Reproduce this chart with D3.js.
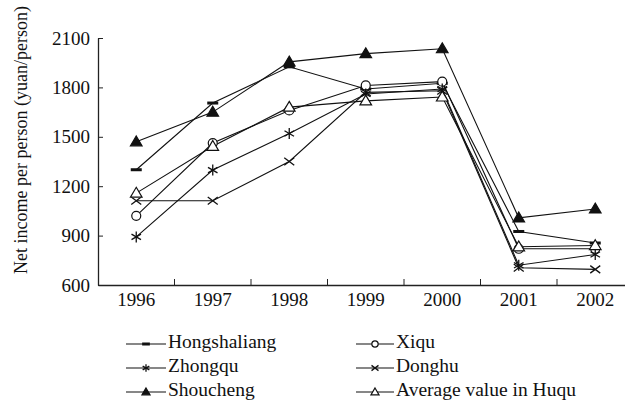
<!DOCTYPE html>
<html>
<head>
<meta charset="utf-8">
<script src="https://cdn.jsdelivr.net/npm/d3@7"></script>
<style>
  body { margin: 0; background: #fff; }
  svg text { font-family: "Liberation Serif", "Times New Roman", serif; fill: #111; }
</style>
</head>
<body>
<svg id="chart" width="625" height="405"></svg>
<script>
const years = ["1996", "1997", "1998", "1999", "2000", "2001", "2002"];
const yTicks = [600, 900, 1200, 1500, 1800, 2100];

const hongshaliang = [1300, 1705, 1925, 1790, 1825, 925, 855];
const xiqu = [1020, 1462, 1660, 1812, 1835, 820, 820];
const zhongqu = [892, 1298, 1520, 1760, 1790, 720, 785];
const donghu = [1112, 1112, 1350, 1770, 1780, 705, 695];
const shoucheng = [1470, 1650, 1955, 2005, 2035, 1008, 1062];
const average = [1158, 1442, 1680, 1718, 1742, 832, 840];

const series = [
  { name: "Hongshaliang", values: hongshaliang, marker: "dash" },
  { name: "Xiqu", values: xiqu, marker: "circle" },
  { name: "Zhongqu", values: zhongqu, marker: "star" },
  { name: "Donghu", values: donghu, marker: "cross" },
  { name: "Shoucheng", values: shoucheng, marker: "triFill" },
  { name: "Average value in Huqu", values: average, marker: "triOpen" }
];

const FONT = '"Liberation Serif", "Times New Roman", serif';
const svg = d3.select("#chart");
const plotLeft = 98, plotTop = 38, plotBottom = 285;

const x = d3.scaleBand().domain(years).range([plotLeft, plotLeft + 7 * 76.5]);
const y = d3.scaleLinear().domain([600, 2100]).range([plotBottom, plotTop]);

// draw one marker at the origin of g, s = size
function drawMarker(g, type, s) {
  const stroke = "#111";
  if (type === "dash") {
    g.append("rect").attr("x", -s * 0.55).attr("y", -1.5).attr("width", s * 1.1).attr("height", 3).attr("fill", stroke);
  } else if (type === "circle") {
    g.append("circle").attr("r", s * 0.45).attr("fill", "#fff").attr("stroke", stroke).attr("stroke-width", 1.2);
  } else if (type === "star") {
    const r = s * 0.55;
    [0, 60, 120].forEach(a => {
      const rad = (a + 90) * Math.PI / 180;
      g.append("line")
        .attr("x1", -r * Math.cos(rad)).attr("y1", -r * Math.sin(rad))
        .attr("x2", r * Math.cos(rad)).attr("y2", r * Math.sin(rad))
        .attr("stroke", stroke).attr("stroke-width", 1.3);
    });
  } else if (type === "cross") {
    const r = s * 0.5;
    g.append("path").attr("d", `M${-r},${-r * 0.75}L${r},${r * 0.75}M${-r},${r * 0.75}L${r},${-r * 0.75}`)
      .attr("stroke", stroke).attr("stroke-width", 1.3).attr("fill", "none");
  } else {
    const r = s * 0.58;
    g.append("path").attr("d", `M0,${-r}L${r},${r * 0.7}L${-r},${r * 0.7}Z`)
      .attr("fill", type === "triFill" ? stroke : "#fff")
      .attr("stroke", stroke).attr("stroke-width", 1.2);
  }
}

// y axis, ticks pointing inward
const yAxis = svg.append("g")
  .attr("transform", `translate(${plotLeft},0)`)
  .call(d3.axisLeft(y).tickValues(yTicks).tickFormat(d3.format("d"))
    .tickSize(-5).tickSizeOuter(0).tickPadding(8));
yAxis.select(".domain").attr("stroke", "#222").attr("stroke-width", 1.3);
yAxis.selectAll(".tick line").attr("stroke", "#222");
yAxis.selectAll("text").style("font-family", FONT).style("font-size", "19px").attr("fill", "#111");

// x axis: labels at band centres, ticks on band boundaries
const xAxis = svg.append("g")
  .attr("transform", `translate(0,${plotBottom})`)
  .call(d3.axisBottom(x).tickSize(0).tickPadding(8));
xAxis.select(".domain").attr("stroke", "#222").attr("stroke-width", 1.3);
xAxis.selectAll("text").style("font-family", FONT).style("font-size", "19px").attr("fill", "#111");
svg.append("g").selectAll("line")
  .data(years.slice(0, -1))
  .join("line")
  .attr("x1", d => x(d) + x.bandwidth()).attr("x2", d => x(d) + x.bandwidth())
  .attr("y1", plotBottom).attr("y2", plotBottom - 6)
  .attr("stroke", "#222");

// y axis label
svg.append("text")
  .attr("transform", "translate(23,140) rotate(-90)")
  .attr("text-anchor", "middle")
  .attr("dominant-baseline", "middle")
  .style("font-family", FONT)
  .style("font-size", "18px")
  .text("Net income per person (yuan/person)");

// lines and markers
const line = d3.line()
  .x((d, i) => x(years[i]) + x.bandwidth() / 2)
  .y(d => y(d));

series.forEach(s => {
  svg.append("path")
    .attr("d", line(s.values))
    .attr("fill", "none")
    .attr("stroke", "#111")
    .attr("stroke-width", 1.1);
});
series.forEach(s => {
  s.values.forEach((v, i) => {
    const g = svg.append("g")
      .attr("transform", `translate(${x(years[i]) + x.bandwidth() / 2},${y(v)})`);
    drawMarker(g, s.marker, 10);
  });
});

// legend, two columns
const legendRows = [344, 368, 392];
series.forEach((s, i) => {
  const col = i % 2, row = Math.floor(i / 2);
  const x0 = col === 0 ? 126 : 356;
  const w = col === 0 ? 40 : 38;
  const g = svg.append("g").attr("transform", `translate(${x0},${legendRows[row]})`);
  g.append("line").attr("x1", 0).attr("x2", w).attr("y1", 0).attr("y2", 0)
    .attr("stroke", "#111").attr("stroke-width", 1.1);
  const m = g.append("g").attr("transform", `translate(${w / 2},0)`);
  drawMarker(m, s.marker, 7);
  g.append("text")
    .attr("x", w + 2)
    .attr("y", 0)
    .attr("dominant-baseline", "middle")
    .style("font-family", FONT)
    .style("font-size", "19.5px")
    .text(s.name);
});
</script>
</body>
</html>
